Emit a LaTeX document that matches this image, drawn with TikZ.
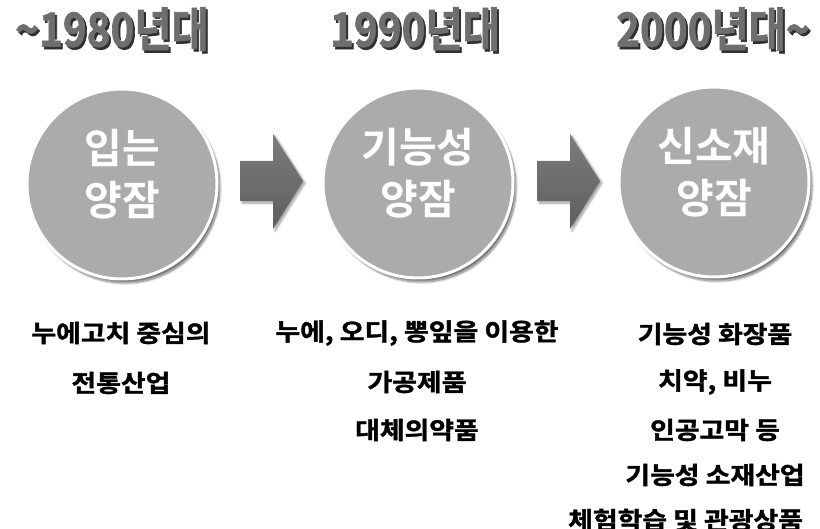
\documentclass[tikz,border=0pt]{standalone}
\usepackage{fontspec}
\setmainfont{Noto Sans CJK KR}[BoldFont={* Bold}]
\newfontfamily\krheavy{Noto Sans CJK KR}[UprightFont={* Bold}, FakeBold=1.5]
\usetikzlibrary{shadows.blur}
\definecolor{circ}{HTML}{ABABAB}
\definecolor{hdr}{HTML}{6E6E6E}
\definecolor{hdrsh}{HTML}{303030}
\definecolor{arrtop}{HTML}{7C7C7C}
\definecolor{arrbot}{HTML}{5E5E5E}
\tikzset{
  stage/.style={circle, fill=circ, draw=white, line width=3pt, minimum size=190pt,
    blur shadow={shadow blur steps=12, shadow xshift=3pt, shadow yshift=-4pt, shadow opacity=55},
    inner sep=0pt},
  stagetxt/.style={text=white, font=\fontsize{41}{52}\selectfont\bfseries, align=center, inner sep=0pt},
  hdrtxt/.style={font=\fontsize{47}{47}\selectfont\krheavy, xscale=0.86, inner sep=0pt},
  desc/.style={font=\fontsize{24}{24}\selectfont\krheavy, xscale=1.12, inner sep=0pt, text=black},
  bigarrow/.style={top color=arrtop, bottom color=arrbot, draw=none,
    blur shadow={shadow blur steps=8, shadow xshift=2pt, shadow yshift=-2pt, shadow opacity=40}}
}
\begin{document}
\begin{tikzpicture}[x=1pt,y=-1pt]
\useasboundingbox (0,0) rectangle (820,529);
% headers
\foreach \nm/\xx/\tt in {h1/112/{\textasciitilde 1980년대}, h2/415/{1990년대}, h3/713/{2000년대\textasciitilde}}{
  \node[hdrtxt, text=hdrsh] at (\xx+2,29+2.5) {\tt};
  \node[hdrtxt, text=white] at (\xx-1,29-1) {\tt};
  \node[hdrtxt, text=hdr] (\nm) at (\xx,29) {\tt};
}
% circles
\node[stage] (c1) at (122,184) {};
\node[stage] (c2) at (418,183) {};
\node[stage] (c3) at (714,182) {};
\node[stagetxt] (t1) at ([yshift=10pt]c1.center) {입는\\양잠};
\node[stagetxt] (t2) at ([yshift=10pt]c2.center) {기능성\\양잠};
\node[stagetxt] (t3) at ([yshift=10pt]c3.center) {신소재\\양잠};
% arrows
\coordinate (a1s) at (240,181);
\coordinate (a2s) at (537,181);
\foreach \s in {a1s,a2s}{
  \path[bigarrow] ([yshift=-20pt]\s) -- ++(33,0) -- ++(0,28) -- ++(30,-48) -- ++(-30,-47) -- ++(0,27) -- ++(-33,0) -- cycle;
}
% descriptions
\node[desc] (d11) at (121,333) {누에고치 중심의};
\node[desc] (d12) at (121,383) {전통산업};
\node[desc] (d21) at (417,333) {누에, 오디, 뽕잎을 이용한};
\node[desc] (d22) at (417,382) {가공제품};
\node[desc] (d23) at (417,430) {대체의약품};
\node[desc] (d31) at (715,334) {기능성 화장품};
\node[desc] (d32) at (715,382) {치약, 비누};
\node[desc] (d33) at (715,430) {인공고막 등};
\node[desc] (d34) at (715,475) {기능성 소재산업};
\node[desc, anchor=west] (d35) at (568,520) {체험학습 및 관광상품};
\end{tikzpicture}
\end{document}
